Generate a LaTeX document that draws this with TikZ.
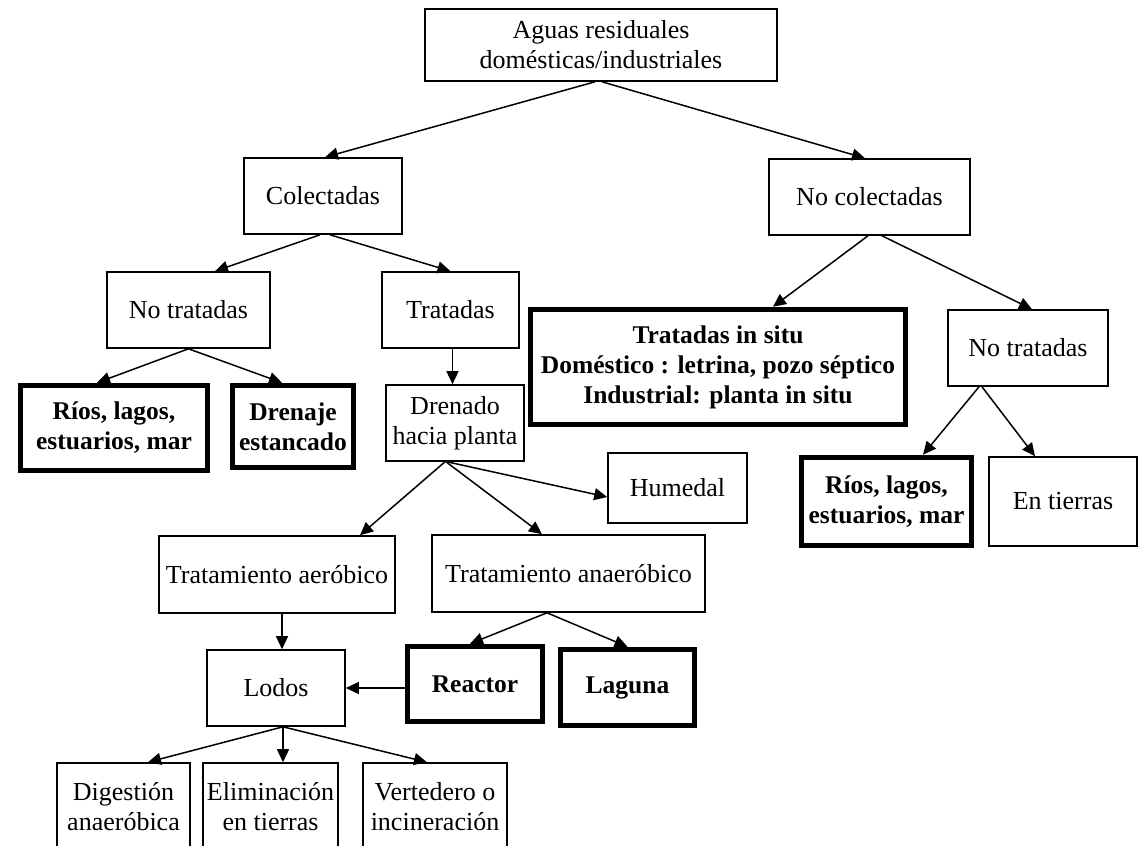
\documentclass[tikz,border=0pt]{standalone}
\usepackage{fontspec}
\setmainfont{Liberation Serif}
\usetikzlibrary{arrows.meta}
\begin{document}
\begin{tikzpicture}[x=1pt,y=-1pt,
  box/.style={draw, line width=1.6pt, inner sep=0pt, align=center, font=\fontsize{26}{30}\selectfont},
  tbox/.style={box, line width=5.5pt, font=\fontsize{25.5}{30}\selectfont\bfseries},
  arr/.style={line width=1.5pt, -{Triangle[length=13pt,width=12pt]}}]
\clip (0,0) rectangle (1138,846);
\fill[white] (0,0) rectangle (1138,846);
\node[box, minimum width=352pt, minimum height=72pt] (top) at (601,45) {Aguas residuales\\domésticas/industriales};
\node[box, minimum width=158pt, minimum height=76pt] (col) at (323,196) {Colectadas};
\node[box, minimum width=201pt, minimum height=76pt] (ncol) at (869.5,197) {No colectadas};
\node[box, minimum width=163pt, minimum height=76pt] (nt1) at (188.5,310) {No tratadas};
\node[box, minimum width=137pt, minimum height=76pt] (trat) at (450.5,310) {Tratadas};
\node[tbox, minimum width=187pt, minimum height=85pt] (rios1) at (114,428) {Ríos, lagos,\\estuarios, mar};
\node[tbox, minimum width=121pt, minimum height=82pt] (dren) at (293,426.5) {Drenaje\\estancado};
\node[box, minimum width=138pt, minimum height=76pt] (drenado) at (455,423) {Drenado\\hacia planta};
\node[tbox, minimum width=375pt, minimum height=115pt] (insitu) at (718,367) {Tratadas in situ\\Doméstico : letrina, pozo séptico\\Industrial: planta in situ};
\node[box, minimum width=160pt, minimum height=76pt] (nt2) at (1028,348) {No tratadas};
\node[tbox, minimum width=170pt, minimum height=88pt] (rios2) at (886.5,501.5) {Ríos, lagos,\\estuarios, mar};
\node[box, minimum width=148pt, minimum height=89pt] (tierras) at (1063,501.5) {En tierras};
\node[box, minimum width=139pt, minimum height=70pt] (hum) at (677.5,488) {Humedal};
\node[box, minimum width=236pt, minimum height=77pt] (aer) at (277,574.5) {Tratamiento aeróbico};
\node[box, minimum width=273pt, minimum height=77pt] (anaer) at (568.5,573.5) {Tratamiento anaeróbico};
\node[box, minimum width=138pt, minimum height=76pt] (lodos) at (276,688) {Lodos};
\node[tbox, minimum width=135pt, minimum height=75pt] (reac) at (475,684) {Reactor};
\node[tbox, minimum width=134pt, minimum height=76pt] (lag) at (627.5,687.5) {Laguna};
\node[box, minimum width=133pt, minimum height=88pt] (dig) at (123.5,807) {Digestión\\anaeróbica};
\node[box, minimum width=135pt, minimum height=88pt] (elim) at (270.5,807) {Eliminación\\en tierras};
\node[box, minimum width=144pt, minimum height=88pt] (vert) at (435,807) {Vertedero o\\incineración};
% connectors
\draw[arr] ([xshift=-6pt]top.south) -- ([xshift=2pt]col.north);
\draw[arr] ([xshift=1pt]top.south) -- ([xshift=-4.5pt]ncol.north);
\draw[arr] ([xshift=-3pt]col.south) -- ([xshift=26.5pt]nt1.north);
\draw[arr] ([xshift=7pt]col.south) -- (trat.north);
\draw[arr] (nt1.south) -- ([xshift=-17pt]rios1.north);
\draw[arr] (nt1.south) -- ([xshift=-11pt]dren.north);
\draw[arr] ([xshift=2pt]trat.south) -- ([xshift=-2.5pt]drenado.north);
\draw[arr] ([xshift=-1.5pt]ncol.south) -- ([xshift=55pt]insitu.north);
\draw[arr] ([xshift=12.5pt]ncol.south) -- ([xshift=4pt]nt2.north);
\draw[arr] ([xshift=-49pt]nt2.south) -- ([xshift=36.5pt]rios2.north);
\draw[arr] ([xshift=-46pt]nt2.south) -- ([xshift=-28pt]tierras.north);
\draw[arr] ([xshift=-10pt]drenado.south) -- ([xshift=83pt]aer.north);
\draw[arr] ([xshift=-9pt]drenado.south) -- ([xshift=-26.5pt]anaer.north);
\draw[arr] ([xshift=-8pt]drenado.south) -- ([yshift=-9pt]hum.west);
\draw[arr] ([xshift=5pt]aer.south) -- ([xshift=6pt]lodos.north);
\draw[arr] ([xshift=-21.5pt]anaer.south) -- ([xshift=-5pt]reac.north);
\draw[arr] ([xshift=-21.5pt]anaer.south) -- (lag.north);
\draw[arr] ([yshift=-4pt]reac.west) -- (lodos.east);
\draw[arr] ([xshift=7pt]lodos.south) -- ([xshift=24.5pt]dig.north);
\draw[arr] ([xshift=7pt]lodos.south) -- ([xshift=12.5pt]elim.north);
\draw[arr] ([xshift=7pt]lodos.south) -- ([xshift=-8pt]vert.north);
\end{tikzpicture}
\end{document}
